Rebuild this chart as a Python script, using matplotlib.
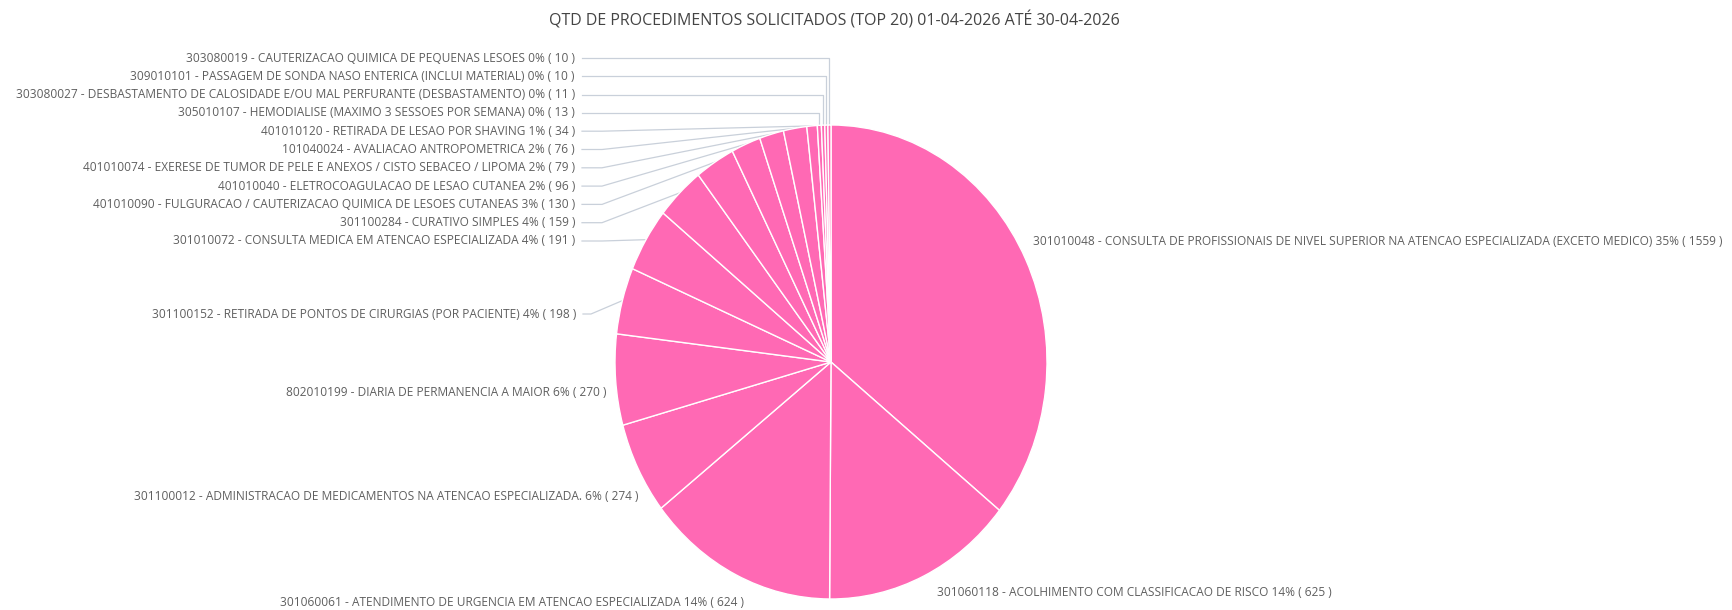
import numpy as np
import matplotlib
matplotlib.use("Agg")
import matplotlib.pyplot as plt

# data, clockwise from 12 o'clock
codes = ["301010048", "301060118", "301060061", "301100012", "802010199",
         "301100152", "301010072", "301100284", "401010090", "401010040",
         "401010074", "101040024", "401010120", "305010107", "303080027",
         "309010101", "303080019"]
names = ["CONSULTA DE PROFISSIONAIS DE NIVEL SUPERIOR NA ATENCAO ESPECIALIZADA (EXCETO MEDICO)",
         "ACOLHIMENTO COM CLASSIFICACAO DE RISCO",
         "ATENDIMENTO DE URGENCIA EM ATENCAO ESPECIALIZADA",
         "ADMINISTRACAO DE MEDICAMENTOS NA ATENCAO ESPECIALIZADA.",
         "DIARIA DE PERMANENCIA A MAIOR",
         "RETIRADA DE PONTOS DE CIRURGIAS (POR PACIENTE)",
         "CONSULTA MEDICA EM ATENCAO ESPECIALIZADA",
         "CURATIVO SIMPLES",
         "FULGURACAO / CAUTERIZACAO QUIMICA DE LESOES CUTANEAS",
         "ELETROCOAGULACAO DE LESAO CUTANEA",
         "EXERESE DE TUMOR DE PELE E ANEXOS / CISTO SEBACEO / LIPOMA",
         "AVALIACAO ANTROPOMETRICA",
         "RETIRADA DE LESAO POR SHAVING",
         "HEMODIALISE (MAXIMO 3 SESSOES POR SEMANA)",
         "DESBASTAMENTO DE CALOSIDADE E/OU MAL PERFURANTE (DESBASTAMENTO)",
         "PASSAGEM DE SONDA NASO ENTERICA (INCLUI MATERIAL)",
         "CAUTERIZACAO QUIMICA DE PEQUENAS LESOES"]
values = [1559, 625, 624, 274, 270, 198, 191, 159, 130, 96, 79, 76, 34, 13, 11, 10, 10]
pcts = [35, 14, 14, 6, 6, 4, 4, 4, 3, 2, 2, 2, 1, 0, 0, 0, 0]

title = "QTD DE PROCEDIMENTOS SOLICITADOS (TOP 20) 01-04-2026 ATÉ 30-04-2026"

W, H = 1733, 610
CX, CY, RX, RY = 831, 362, 216, 237   # pie centre / radii in pixels (from top)

fig = plt.figure(figsize=(W / 100, H / 100), dpi=100)
ax = fig.add_axes([0, 0, 1, 1])
ax.pie(values, startangle=90, counterclock=False, radius=1,
       colors=["#ff69b4"] * len(values),
       wedgeprops=dict(edgecolor="white", linewidth=1))
ax.set_aspect("auto")
ax.set_xlim(-CX / RX, (W - CX) / RX)
ax.set_ylim((CY - H) / RY, CY / RY)
ax.axis("off")


def px(x, y):
    # pixel (from top-left) -> data coords
    return (x - CX) / RX, (CY - y) / RY


# label layout: (x, y, ha) in pixels
lab_pos = {
    0: (1033, 242, "left"),
    1: (937, 592, "left"),
    2: (744, 603, "right"),
    3: (639, 497, "right"),
    4: (607, 393, "right"),
    5: (576, 314, "right"),
}
top_rows = [6, 7, 8, 9, 10, 11, 12, 13, 14, 15, 16]
for k, i in enumerate(top_rows):
    lab_pos[i] = (575, 241 - 18.3 * k, "right")

# mid angles of the wedges
cum = np.cumsum(values)
mid = (cum - np.array(values) / 2) / cum[-1] * 360
theta = np.deg2rad(90 - mid)

lab_color = "#5f5f5f"
line_color = "#c9d0da"
for i in range(len(values)):
    x, y, ha = lab_pos[i]
    txt = f"{codes[i]} - {names[i]} {pcts[i]}% ( {values[i]} )"
    tx, ty = px(x, y)
    ax.text(tx, ty, txt, ha=ha, va="center", fontsize=8.6,
            family="Open Sans", color=lab_color)
    if i >= 5:
        ex, ey = np.cos(theta[i]), np.sin(theta[i])
        epx = CX + RX * ex
        x0 = x + 7
        if i >= 13:
            xe = epx
        elif i == 5:
            xe = x0 + 8
        else:
            xe = x0 + 20
        pts = [px(x0, y), px(xe, y), (ex, ey)]
        ax.plot([p[0] for p in pts], [p[1] for p in pts], color=line_color,
                lw=0.9, zorder=0)

fig.text(834 / W, 1 - 20 / H, title, ha="center", va="center",
         fontsize=11.5, family="Open Sans", color="#444444")

fig.savefig("out.png", dpi=100, facecolor="white")
